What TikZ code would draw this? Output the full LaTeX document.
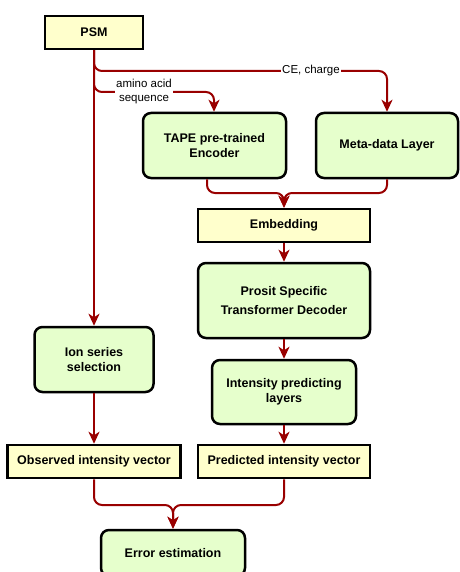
\documentclass[tikz,border=0pt]{standalone}
\usepackage{fontspec}
\setmainfont{Liberation Sans}
\usetikzlibrary{arrows.meta}
\definecolor{R}{RGB}{153,0,0}
\definecolor{Y}{RGB}{255,255,204}
\definecolor{G}{RGB}{230,255,204}
\def\W{459}
\def\H{572}
\def\Yce{71}
\def\Yseq{92}
\def\Yjoin{193}
\def\Yerr{505}

\begin{document}
\begin{tikzpicture}[x=1pt,y=-1pt,
    box/.style={draw=black,line width=2.5pt,font=\bfseries\fontsize{12.5}{15}\selectfont,align=center,inner sep=0pt},
    data/.style={box,fill=Y},
    layer/.style={box,fill=G,rounded corners=8pt},
    edge/.style={R,line width=2pt,rounded corners=8pt,-{Stealth[length=12pt,width=11pt,inset=3.5pt]}},
    lbl/.style={fill=white,font=\fontsize{11.5}{14}\selectfont,align=center,inner sep=1pt}]
    \path[use as bounding box] (0,0) rectangle (\W,\H);
    % boxes
    \node[data,minimum width=98,minimum height=33] (psm) at (94,32.5) {PSM};
    \node[layer,minimum width=143,minimum height=65] (tape) at (214.5,145.5) {TAPE pre-trained\\Encoder};
    \node[layer,minimum width=142,minimum height=65] (meta) at (387,145.5) {Meta-data Layer};
    \node[data,minimum width=172,minimum height=33] (emb) at (284,225.5) {Embedding};
    \node[layer,minimum width=172,minimum height=75] (prosit) at (284,300.5) {Prosit Specific\\[4pt]Transformer Decoder};
    \node[layer,minimum width=144,minimum height=64] (intens) at (284,392) {Intensity predicting\\layers};
    \node[data,minimum width=172,minimum height=33] (pred) at (284,461.5) {Predicted intensity vector};
    \node[layer,minimum width=119,minimum height=65] (ion) at (94,359.5) {Ion series\\selection};
    \node[data,minimum width=173,minimum height=33] (obs) at (94,461.5) {Observed intensity vector};
    \node[layer,minimum width=144,minimum height=46] (err) at (173,553) {Error estimation};
    % branch points
    \coordinate (ce) at (meta.north |- 0,\Yce);
    \coordinate (seq) at (214,\Yseq);
    \coordinate (j1) at (emb.north |- 0,\Yjoin);
    \coordinate (j2) at (err.north |- 0,\Yerr);
    % connectors
    \draw[edge] (psm.south) |- (ce) -- (meta.north);
    \draw[edge] (psm.south) |- (seq) -- (tape.north -| seq);
    \draw[edge] (tape.south -| 207,0) |- (j1) -- (emb.north);
    \draw[edge] (meta.south) |- (j1) -- (emb.north);
    \foreach \a/\b in {psm/ion,emb/prosit,prosit/intens,intens/pred,ion/obs} {\draw[edge] (\a.south) -- (\b.north);}
    \draw[edge] (obs.south) |- (j2) -- (err.north);
    \draw[edge] (pred.south) |- (j2) -- (err.north);
    \node[lbl] (celbl) at (311,\Yce) {CE, charge};
    \node[lbl] (seqlbl) at (144,\Yseq) {amino acid\\sequence};
\end{tikzpicture}
\end{document}
